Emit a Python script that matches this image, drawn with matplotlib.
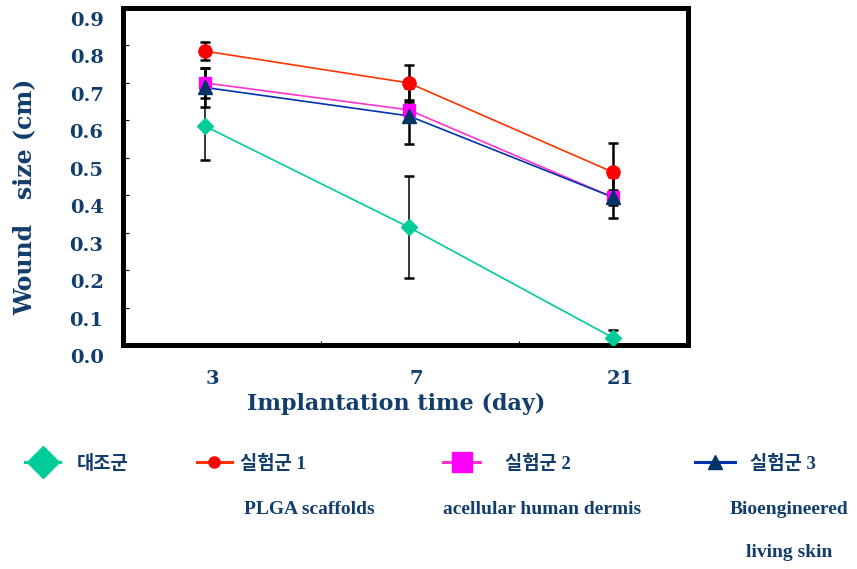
import matplotlib
matplotlib.use("Agg")
import matplotlib.pyplot as plt
from matplotlib.lines import Line2D
from matplotlib.transforms import ScaledTranslation

# ---- data ----
days = ["3", "7", "21"]
control = [0.585, 0.315, 0.02]
control_err = [0.09, 0.137, 0.02]
group1 = [0.785, 0.70, 0.462]
group1_err = [0.025, 0.047, 0.078]
group2 = [0.70, 0.628, 0.395]
group2_err = [0.04, 0.02, 0.02]
group3 = [0.688, 0.612, 0.395]
group3_err = [0.052, 0.075, 0.055]
yticks = [0.0, 0.1, 0.2, 0.3, 0.4, 0.5, 0.6, 0.7, 0.8, 0.9]

legend_names = ["대조군", "실험군 1", "실험군 2", "실험군 3"]
legend_desc = ["", "PLGA scaffolds", "acellular human dermis", "Bioengineered\n\nliving skin"]

NAVY = "#123d6c"
W, H = 857, 569

fig = plt.figure(figsize=(W / 100, H / 100), dpi=100)
ax = fig.add_axes([123 / W, 1 - 345 / H, (688 - 123) / W, (345 - 8) / H])

x = list(range(len(days)))
series = [
    (control, control_err, "#00cc99", "#00cc99", "D", 8.5, 1.1),
    (group1, group1_err, "#ff3300", "#ff0000", "o", 9.5, 1.8),
    (group2, group2_err, "#ff33cc", "#ff00ff", "s", 9.0, 1.8),
    (group3, group3_err, "#0033aa", "#003366", "^", 10, 1.8),
]
for vals, err, lc, mc, mk, ms, elw in series:
    ax.errorbar(x, vals, yerr=err, fmt="none", ecolor="black", elinewidth=elw,
                capsize=3.8, capthick=1.8, zorder=2)
    ax.plot(x, vals, color=lc, lw=1.2, zorder=3)
    ax.plot(x, vals, ls="none", marker=mk, ms=ms, color=mc, mec=mc, zorder=4)

ax.set_ylim(0, 0.9)
ax.set_xlim(-0.40, 2.37)
for s in ax.spines.values():
    s.set_linewidth(3.6)
    s.set_color("black")

ax.set_yticks(yticks)
ax.set_yticklabels([f"{v:.1f}" for v in yticks], fontfamily="DejaVu Serif",
                   fontweight="bold", fontsize=14, color=NAVY)
ax.tick_params(axis="y", direction="in", length=4, width=0.8, pad=14)
off = ScaledTranslation(0, -0.11, fig.dpi_scale_trans)
for lab in ax.get_yticklabels():
    lab.set_transform(lab.get_transform() + off)

ax.set_xticks(x)
ax.set_xticklabels(days, fontfamily="DejaVu Serif", fontweight="bold",
                   fontsize=14, color=NAVY)
ax.tick_params(axis="x", length=0, pad=18)
offx = ScaledTranslation(0.08, 0, fig.dpi_scale_trans)
for lab in ax.get_xticklabels():
    lab.set_transform(lab.get_transform() + offx)
ax.set_xticks([0.57, 1.54], minor=True)
ax.tick_params(axis="x", which="minor", direction="in", length=3, width=0.8)

fig.text(396 / W, 1 - 404 / H, "Implantation time (day)", ha="center", va="center",
         fontfamily="DejaVu Serif", fontweight="bold", fontsize=16, color=NAVY)
fig.text(24 / W, 1 - 197 / H, "Wound   size (cm)", rotation=90, ha="center", va="center",
         fontfamily="DejaVu Serif", fontweight="bold", fontsize=17, color=NAVY)

# ---- legend (drawn manually) ----
leg_line_x = [(25, 60), (197, 232), (443, 480), (695, 735)]
leg_text_x = [77, 240, 505, 750]
leg_desc_x = [0, 309, 542, 789]
leg_ms = [16, 8, 15, 10]
for i, (vals, err, lc, mc, mk, ms, elw) in enumerate(series):
    x0, x1 = leg_line_x[i]
    yy = 1 - 462 / H
    fig.add_artist(Line2D([x0 / W, x1 / W], [yy, yy], color=lc, lw=2.2))
    fig.add_artist(Line2D([(x0 + x1) / 2 / W], [yy], marker=mk, ms=leg_ms[i],
                          color=mc, mec=mc, ls="none"))
    fig.text(leg_text_x[i] / W, 1 - 464 / H, legend_names[i], ha="left", va="center",
             fontfamily=["Liberation Serif", "Noto Sans CJK KR"], fontweight="bold",
             fontsize=13.5, color=NAVY)
    if legend_desc[i]:
        fig.text(leg_desc_x[i] / W, 1 - 511 / H, legend_desc[i], ha="center", va="top",
                 fontfamily="Liberation Serif", fontweight="bold", fontsize=14,
                 color=NAVY, linespacing=1.35,
                 transform=fig.transFigure + ScaledTranslation(0, 0.10, fig.dpi_scale_trans))

fig.savefig("out.png", dpi=100, facecolor="white")
